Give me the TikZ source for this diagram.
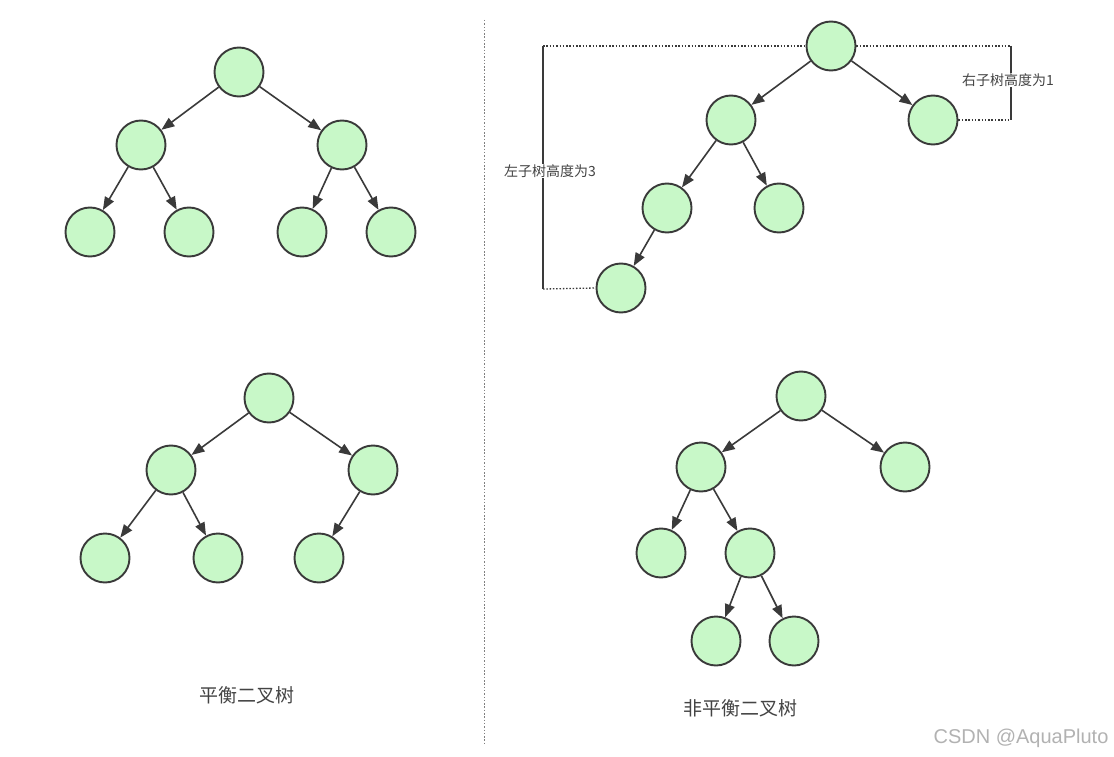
\documentclass[tikz,border=0pt]{standalone}
\usepackage{fontspec}
\setmainfont{Noto Sans CJK SC}
\newfontfamily\wmfont{Liberation Sans}
\usetikzlibrary{arrows.meta}
\definecolor{nodefill}{HTML}{C8F8C8}
\definecolor{nodeline}{HTML}{3A3A3A}
\definecolor{txtgray}{HTML}{444444}
\begin{document}
\begin{tikzpicture}[x=1pt,y=-1pt,
  tn/.style={circle,draw=nodeline,fill=nodefill,line width=1.9pt,minimum size=49pt,inner sep=0pt},
  edge/.style={draw=nodeline,line width=1.6pt,-{Triangle[length=13pt,width=10pt]}},
  dotln/.style={draw=nodeline,line width=1.3pt,dash pattern=on 1.5pt off 1.8pt},
  brk/.style={draw=nodeline,line width=1.3pt},
  lbl/.style={fill=white,inner sep=1pt,font=\fontsize{14}{16}\selectfont,text=txtgray},
  ttl/.style={font=\fontsize{19}{22}\selectfont,text=txtgray}]
\path[use as bounding box,fill=white] (0,0) rectangle (1114,757);
% separator
\coordinate (s1) at (484,20); \coordinate (s2) at (484,745);
\draw[dotln,draw=gray,line width=1pt] (s1) -- (s2);
% top-left tree
\node[tn] (a0) at (239,72) {};
\node[tn] (a1) at (141,145) {};
\node[tn] (a2) at (342,145) {};
\node[tn] (a3) at (90,232) {};
\node[tn] (a4) at (189,232) {};
\node[tn] (a5) at (302,232) {};
\node[tn] (a6) at (391,232) {};
\path[edge] (a0)--(a1); \path[edge] (a0)--(a2);
\path[edge] (a1)--(a3); \path[edge] (a1)--(a4);
\path[edge] (a2)--(a5); \path[edge] (a2)--(a6);
% bottom-left tree
\node[tn] (b0) at (269,398) {};
\node[tn] (b1) at (171,470) {};
\node[tn] (b2) at (373,470) {};
\node[tn] (b3) at (105,558) {};
\node[tn] (b4) at (218,558) {};
\node[tn] (b5) at (319,558) {};
\path[edge] (b0)--(b1); \path[edge] (b0)--(b2);
\path[edge] (b1)--(b3); \path[edge] (b1)--(b4);
\path[edge] (b2)--(b5);
% top-right tree
\node[tn] (c0) at (831,46) {};
\node[tn] (c1) at (731,120) {};
\node[tn] (c2) at (933,120) {};
\node[tn] (c3) at (667,208) {};
\node[tn] (c4) at (779,208) {};
\node[tn] (c5) at (621,288) {};
\path[edge] (c0)--(c1); \path[edge] (c0)--(c2);
\path[edge] (c1)--(c3); \path[edge] (c1)--(c4);
\path[edge] (c3)--(c5);
% brackets
\coordinate (L1) at (543,46); \coordinate (L2) at (543,289);
\coordinate (R1) at (1011,46); \coordinate (R2) at (1011,120);
\draw[dotln] (L1) -- (c0.west);
\draw[dotln] (L2) -- (c5.west);
\draw[brk] (L1) -- (L2);
\draw[dotln] (c0.east) -- (R1);
\draw[dotln] (c2.east) -- (R2);
\draw[brk] (R1) -- (R2);
\node[lbl] (lt) at (550,171) {左子树高度为3};
\node[lbl] (rt) at (1008,80) {右子树高度为1};
% bottom-right tree
\node[tn] (d0) at (801,396) {};
\node[tn] (d1) at (701,467) {};
\node[tn] (d2) at (905,467) {};
\node[tn] (d3) at (661,553) {};
\node[tn] (d4) at (750,553) {};
\node[tn] (d5) at (716,641) {};
\node[tn] (d6) at (794,641) {};
\path[edge] (d0)--(d1); \path[edge] (d0)--(d2);
\path[edge] (d1)--(d3); \path[edge] (d1)--(d4);
\path[edge] (d4)--(d5); \path[edge] (d4)--(d6);
% titles
\node[ttl] (t1) at (247,695) {平衡二叉树};
\node[ttl] (t2) at (740,708) {非平衡二叉树};
\node[font=\wmfont\fontsize{20}{22}\selectfont,text=gray!60] (wm) at (1021,738) {CSDN @AquaPluto};
\end{tikzpicture}
\end{document}
